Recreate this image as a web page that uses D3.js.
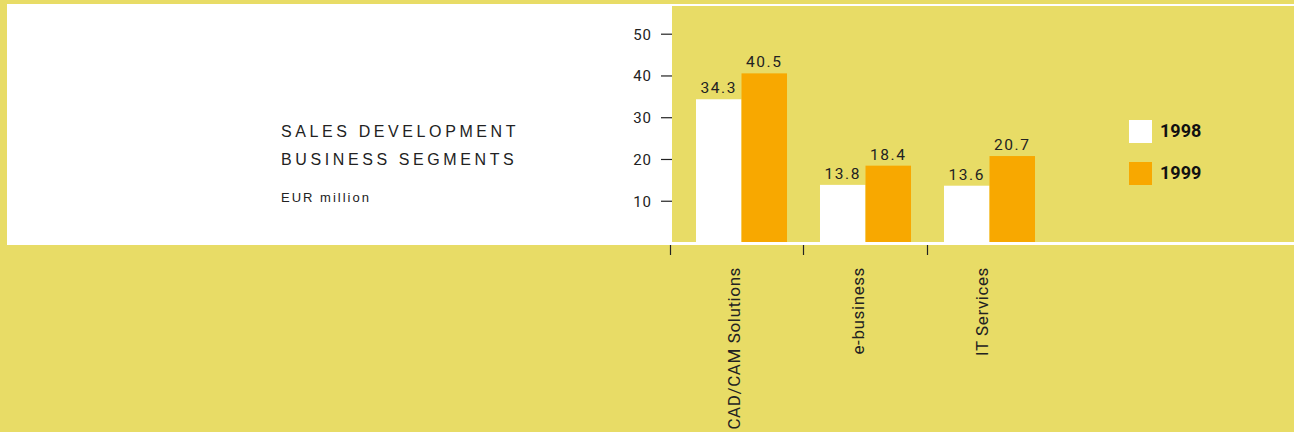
<!DOCTYPE html>
<html><head><meta charset="utf-8">
<script src="https://cdn.jsdelivr.net/npm/d3@7"></script>
<style>
html,body{margin:0;padding:0;background:#e8dc66;}
svg{display:block;}
</style></head>
<body>
<svg id="c" width="1294" height="432"></svg>
<script>
const categories = ["CAD/CAM Solutions", "e-business", "IT Services"];
const years = ["1998", "1999"];
const values1998 = [34.3, 13.8, 13.6];
const values1999 = [40.5, 18.4, 20.7];
const yTicks = [10, 20, 30, 40, 50];

const YEL = "#e8dc66", ORANGE = "#f8a800", INK = "#222";
const narrow = "Roboto,'Liberation Sans Narrow',sans-serif";
const svg = d3.select("#c");

// panels
svg.append("rect").attr("x",0).attr("y",0).attr("width",1294).attr("height",432).attr("fill",YEL);
svg.append("rect").attr("x",7).attr("y",4).attr("width",1287).attr("height",241).attr("fill","#fff");
svg.append("rect").attr("x",672).attr("y",6).attr("width",622).attr("height",236).attr("fill",YEL);

const x0 = 672;
const y = d3.scaleLinear().domain([0, 50]).range([242.5, 33.7]);
const x = d3.scaleBand().domain(categories).range([679.5, 1051.5]).paddingInner(0.266).paddingOuter(0.133);
const xs = d3.scaleBand().domain(years).range([0, x.bandwidth()]);
const colors = {"1998": "#fff", "1999": ORANGE};

const rows = categories.map((c, i) => ({cat: c, vals: [{yr: "1998", v: values1998[i]}, {yr: "1999", v: values1999[i]}]}));

// y axis
const ya = svg.append("g").attr("transform", `translate(${x0},0)`)
  .call(d3.axisLeft(y).tickValues(yTicks).tickSize(11).tickPadding(9).tickFormat(d3.format("d")));
ya.select(".domain").remove();
ya.selectAll("line").attr("stroke", INK).attr("stroke-width", 1.2);
ya.selectAll("text").attr("fill", INK).attr("dy","0.36em").style("font-family", narrow).style("font-size", "15px").style("letter-spacing","1px");

// bars
const g = svg.append("g").selectAll("g").data(rows).join("g")
  .attr("transform", d => `translate(${x(d.cat)},0)`);
g.selectAll("rect").data(d => d.vals).join("rect")
  .attr("x", d => xs(d.yr)).attr("width", xs.bandwidth())
  .attr("y", d => y(d.v)).attr("height", d => y(0) - y(d.v))
  .attr("fill", d => colors[d.yr]);
g.selectAll("text").data(d => d.vals).join("text")
  .attr("x", d => xs(d.yr) + xs.bandwidth()/2).attr("y", d => y(d.v) - 6)
  .attr("text-anchor", "middle").attr("fill", INK)
  .style("font-family", narrow).style("font-size", "15.5px").style("letter-spacing", "1.6px")
  .text(d => d.v.toFixed(1));

// white baseline strip
svg.append("rect").attr("x", x0).attr("y", 242).attr("width", 1294 - x0).attr("height", 3).attr("fill", "#fff");

// category ticks
const tickX = categories.map((c, i) => i === 0 ? 670.5 : x(c) - x.step()*x.paddingInner()/2);
svg.append("g").selectAll("line").data(tickX).join("line")
  .attr("x1", d => d).attr("x2", d => d).attr("y1", 245).attr("y2", 255)
  .attr("stroke", INK).attr("stroke-width", 1.2);

// category labels
svg.append("g").selectAll("text").data(categories).join("text")
  .attr("transform", c => `translate(${x(c) + x.bandwidth()/2 - 2},267) rotate(-90)`)
  .attr("text-anchor", "end").attr("fill", INK)
  .style("font-family", narrow).style("font-size", "17px").style("letter-spacing", "0.6px")
  .text(c => c);

// legend
const lg = svg.append("g").selectAll("g").data(years).join("g")
  .attr("transform", (d, i) => `translate(1129,${120 + i*42})`);
lg.append("rect").attr("width", 23).attr("height", 23).attr("fill", d => colors[d]);
lg.append("text").attr("x", 31).attr("y", 17).attr("fill", "#111")
  .attr("transform", "scale(1,1)")
  .style("font-family", narrow).style("font-weight", "bold").style("font-size", "18px").style("letter-spacing","0px")
  .text(d => d);

// titles
const sans = "'Liberation Sans',Arial,sans-serif";
svg.append("text").attr("x", 281).attr("y", 137).attr("fill", "#222")
  .style("font-family", sans).style("font-size", "16px").style("letter-spacing", "3.6px").text("SALES DEVELOPMENT");
svg.append("text").attr("x", 281).attr("y", 165).attr("fill", "#222")
  .style("font-family", sans).style("font-size", "16px").style("letter-spacing", "3.6px").text("BUSINESS SEGMENTS");
svg.append("text").attr("x", 281).attr("y", 202).attr("fill", "#222")
  .style("font-family", sans).style("font-size", "13px").style("letter-spacing", "2px").text("EUR million");
</script>
</body></html>
